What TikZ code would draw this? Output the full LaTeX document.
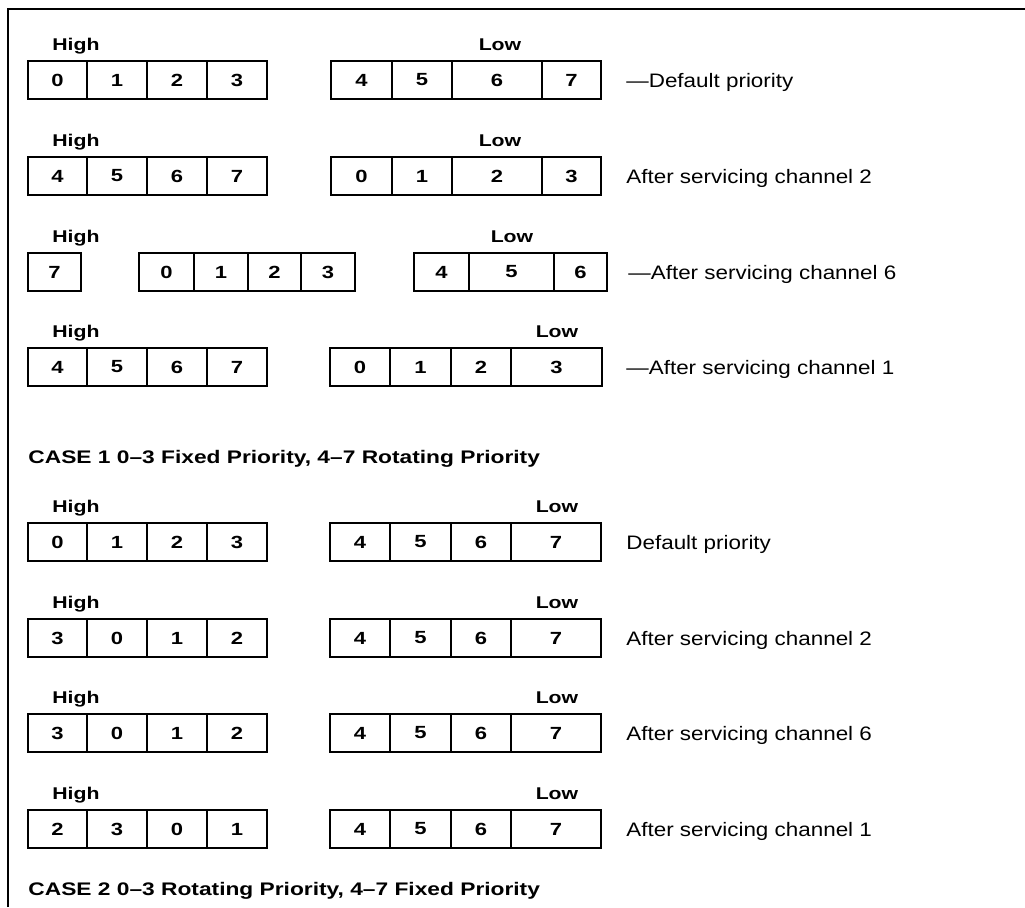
\documentclass[tikz,border=0pt]{standalone}
\usepackage{fontspec}
\setmainfont{Liberation Sans}[FakeStretch=1.15]
\newfontfamily\hdfont{Liberation Sans}[Ligatures=TeX, FakeStretch=1.25]
\begin{document}
\begin{tikzpicture}[
  x=0.5pt, y=-0.5pt,
  cell/.style={draw, line width=0.6pt, inner sep=0pt, minimum height=19pt, font=\hdfont\bfseries\fontsize{8.8}{10}\selectfont},
  hdr/.style={anchor=base west, inner sep=0pt, font=\hdfont\bfseries\fontsize{8.5}{9}\selectfont},
  low/.style={anchor=base, inner sep=0pt, font=\hdfont\bfseries\fontsize{8.5}{9}\selectfont},
  lbl/.style={anchor=base west, inner sep=0pt, font=\fontsize{9.75}{11}\selectfont},
  case/.style={anchor=base west, inner sep=0pt, font=\hdfont\bfseries\fontsize{9.1}{10}\selectfont}
]
  \useasboundingbox (0,0) rectangle (1025,907);
  % frame
  \draw[line width=0.7pt] (8,907) -- (8,9) -- (1025,9);

  % CASE 1, default priority
  \node[hdr] (r1hi) at (52,50) {High};
  \node[low] (r1lo) at (500,50) {Low};
  \foreach \d/\xa/\xb in {0/28/87, 1/87/147, 2/147/207, 3/207/267, 4/331/392, 5/392/452, 6/452/542, 7/542/601}
    \node[cell, minimum width={(\xb-\xa)*0.5pt}] (r1c\d) at ({(\xa+\xb)/2},80) {\d};
  \node[lbl] (r1txt) at (626,87) {---Default priority};

  % CASE 1, after channel 2
  \node[hdr] (r2hi) at (52,146) {High};
  \node[low] (r2lo) at (500,146) {Low};
  \foreach \d/\xa/\xb in {4/28/87, 5/87/147, 6/147/207, 7/207/267, 0/331/392, 1/392/452, 2/452/542, 3/542/601}
    \node[cell, minimum width={(\xb-\xa)*0.5pt}] (r2c\d) at ({(\xa+\xb)/2},176) {\d};
  \node[lbl] (r2txt) at (626,183) {After servicing channel 2};

  % CASE 1, after channel 6
  \node[hdr] (r3hi) at (52,242) {High};
  \node[low] (r3lo) at (512,242) {Low};
  \foreach \d/\xa/\xb in {7/28/81, 0/139/194, 1/194/248, 2/248/301, 3/301/355, 4/414/469, 5/469/554, 6/554/607}
    \node[cell, minimum width={(\xb-\xa)*0.5pt}] (r3c\d) at ({(\xa+\xb)/2},272) {\d};
  \node[lbl] (r3txt) at (628,279) {---After servicing channel 6};

  % CASE 1, after channel 1
  \node[hdr] (r4hi) at (52,337) {High};
  \node[low] (r4lo) at (557,337) {Low};
  \foreach \d/\xa/\xb in {4/28/87, 5/87/147, 6/147/207, 7/207/267, 0/330/390, 1/390/451, 2/451/511, 3/511/602}
    \node[cell, minimum width={(\xb-\xa)*0.5pt}] (r4c\d) at ({(\xa+\xb)/2},367) {\d};
  \node[lbl] (r4txt) at (626,374) {---After servicing channel 1};

  \node[case] (case1) at (28,463) {CASE 1 0--3 Fixed Priority, 4--7 Rotating Priority};

  % CASE 2, default priority
  \node[hdr] (r5hi) at (52,512) {High};
  \node[low] (r5lo) at (557,512) {Low};
  \foreach \d/\xa/\xb in {0/28/87, 1/87/147, 2/147/207, 3/207/267, 4/330/390, 5/390/451, 6/451/511, 7/511/601}
    \node[cell, minimum width={(\xb-\xa)*0.5pt}] (r5c\d) at ({(\xa+\xb)/2},542) {\d};
  \node[lbl] (r5txt) at (626,549) {Default priority};

  % CASE 2, after channel 2
  \node[hdr] (r6hi) at (52,608) {High};
  \node[low] (r6lo) at (557,608) {Low};
  \foreach \d/\xa/\xb in {3/28/87, 0/87/147, 1/147/207, 2/207/267, 4/330/390, 5/390/451, 6/451/511, 7/511/601}
    \node[cell, minimum width={(\xb-\xa)*0.5pt}] (r6c\d) at ({(\xa+\xb)/2},638) {\d};
  \node[lbl] (r6txt) at (626,645) {After servicing channel 2};

  % CASE 2, after channel 6
  \node[hdr] (r7hi) at (52,703) {High};
  \node[low] (r7lo) at (557,703) {Low};
  \foreach \d/\xa/\xb in {3/28/87, 0/87/147, 1/147/207, 2/207/267, 4/330/390, 5/390/451, 6/451/511, 7/511/601}
    \node[cell, minimum width={(\xb-\xa)*0.5pt}] (r7c\d) at ({(\xa+\xb)/2},733) {\d};
  \node[lbl] (r7txt) at (626,740) {After servicing channel 6};

  % CASE 2, after channel 1
  \node[hdr] (r8hi) at (52,799) {High};
  \node[low] (r8lo) at (557,799) {Low};
  \foreach \d/\xa/\xb in {2/28/87, 3/87/147, 0/147/207, 1/207/267, 4/330/390, 5/390/451, 6/451/511, 7/511/601}
    \node[cell, minimum width={(\xb-\xa)*0.5pt}] (r8c\d) at ({(\xa+\xb)/2},829) {\d};
  \node[lbl] (r8txt) at (626,836) {After servicing channel 1};

  \node[case] (case2) at (28,895) {CASE 2 0--3 Rotating Priority, 4--7 Fixed Priority};
\end{tikzpicture}
\end{document}
